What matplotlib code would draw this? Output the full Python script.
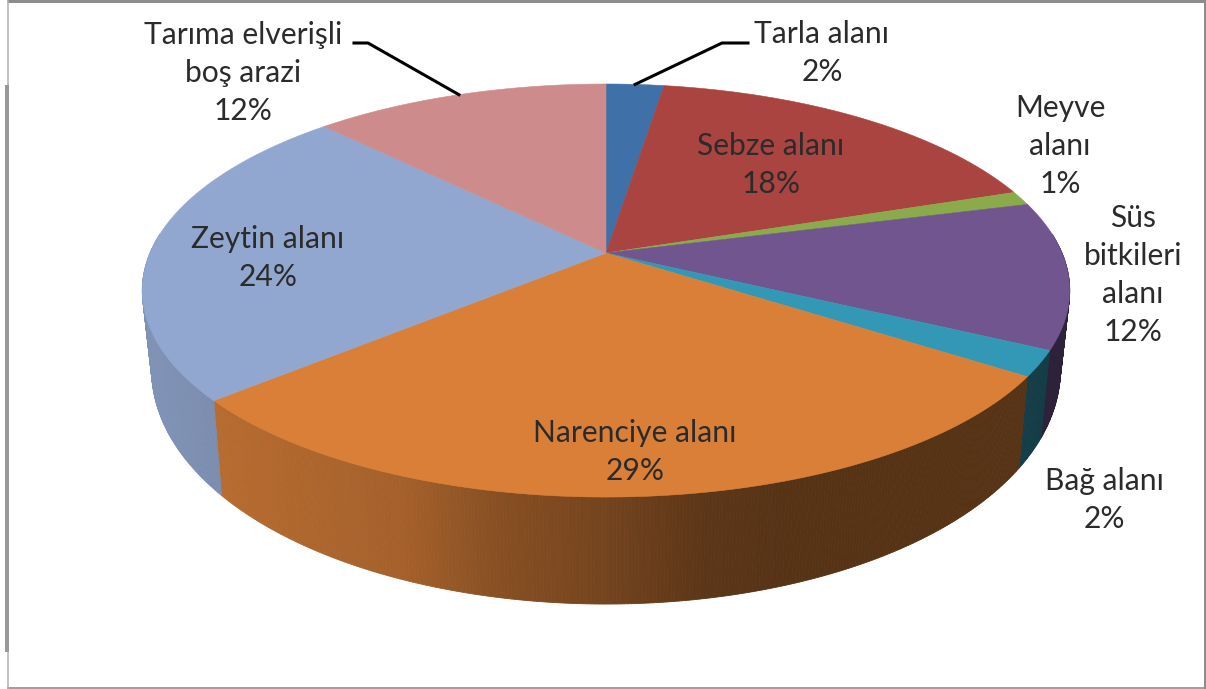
#!/usr/bin/env python3

import numpy as np
import matplotlib
matplotlib.use("Agg")
import matplotlib.pyplot as plt
from matplotlib.patches import Polygon

# slice shares, clockwise from 12 o'clock
names = ["Tarla alanı", "Sebze alanı", "Meyve\nalanı", "Süs\nbitkileri\nalanı",
         "Bağ alanı", "Narenciye alanı", "Zeytin alanı", "Tarıma elverişli\nboş arazi"]
shares = [2.4, 17.4, 1.1, 11.5, 2.0, 29.3, 24.0, 12.3]
percent_labels = ["2%", "18%", "1%", "12%", "2%", "29%", "24%", "12%"]
colors = ["#3F70A8", "#A94440", "#8BAA4B", "#71558E", "#3398B5", "#D97F38", "#92A7CF", "#CD8C8B"]
label_xy = [(822, 53), (771, 165), (1060, 146), (1133, 275), (1104, 500), (635, 452), (268, 258), (243, 73)]

W, H = 1206, 689
CX, CY = 606, 253
A, B, K = 456, 199.7, 0.1817


def rim(theta):
    # theta clockwise from the top, seen with a bit of perspective
    X, Y = np.sin(theta), np.cos(theta)
    return CX + A * X / (1 + K * Y), CY - B * Y / (1 + K * Y)


def bottom_rim(theta):
    x, y = rim(theta)
    return CX + (x - CX) * 0.98, y + 72 - 35 * np.cos(theta)


def shade(x):
    return np.interp(x, [150, 222, 400, 500, 600, 700, 780, 1100],
                     [0.88, 0.84, 0.76, 0.62, 0.54, 0.43, 0.40, 0.40])


fig = plt.figure(figsize=(W / 100, H / 100), dpi=100)
ax = fig.add_axes([0, 0, 1, 1])
ax.set_xlim(0, W)
ax.set_ylim(H, 0)
ax.axis("off")

edges = np.cumsum([0] + shares) / sum(shares) * 2 * np.pi

# side wall first, cut in thin strips for the gradient
for c, t0, t1 in zip(colors, edges[:-1], edges[1:]):
    base = np.array(matplotlib.colors.to_rgb(c))
    n = max(2, int((t1 - t0) * 150))
    ts = np.linspace(t0, t1, n + 1)
    for a, b in zip(ts[:-1], ts[1:]):
        mid = (a + b) / 2
        if np.cos(mid) > 0.1:
            continue
        xa, ya = rim(a)
        xb, yb = rim(b)
        xc, yc = bottom_rim(b)
        xd, yd = bottom_rim(a)
        col = base * shade((xa + xb) / 2)
        ax.add_patch(Polygon([(xa, ya), (xb, yb), (xc, yc), (xd, yd)],
                             facecolor=col, edgecolor=col, lw=0.6, zorder=2))

# top face
for c, t0, t1 in zip(colors, edges[:-1], edges[1:]):
    ts = np.linspace(t0, t1, 150)
    x, y = rim(ts)
    pts = [(CX, CY)] + list(zip(x, y))
    ax.add_patch(Polygon(pts, facecolor=c, edgecolor=c, lw=0.4, zorder=3))

# labels
for name, pct, (lx, ly) in zip(names, percent_labels, label_xy):
    ax.text(lx, ly, name + "\n" + pct, ha="center", va="center", family="Lato",
            fontsize=21.6, color="#2b2b2b", linespacing=1.43, zorder=5)

# leader lines
mid_tarla = (edges[0] + edges[1]) / 2
mid_bos = (edges[7] + edges[8]) / 2
tx, ty = rim(mid_tarla)
ax.plot([748, 722, tx], [43, 43, ty], color="black", lw=2.2, zorder=4)
bx, by = rim(mid_bos)
ax.plot([354, 368, bx], [43, 43, by], color="black", lw=2.2, zorder=4)

# frame of the screenshot
for xs, ys, lw, col in [([7, W], [1, 1], 3, "#8C8C8C"), ([7, W], [688, 688], 2, "#A0A0A0"),
                        ([W - 1.5, W - 1.5], [0, H], 3, "#8C8C8C"), ([7.5, 7.5], [0, H], 1.5, "#B0B0B0"),
                        ([7, 7], [85, 652], 4, "#999999")]:
    ax.plot(xs, ys, color=col, lw=lw * 0.72, zorder=1, solid_capstyle="butt")

fig.savefig("out.png", dpi=100)
